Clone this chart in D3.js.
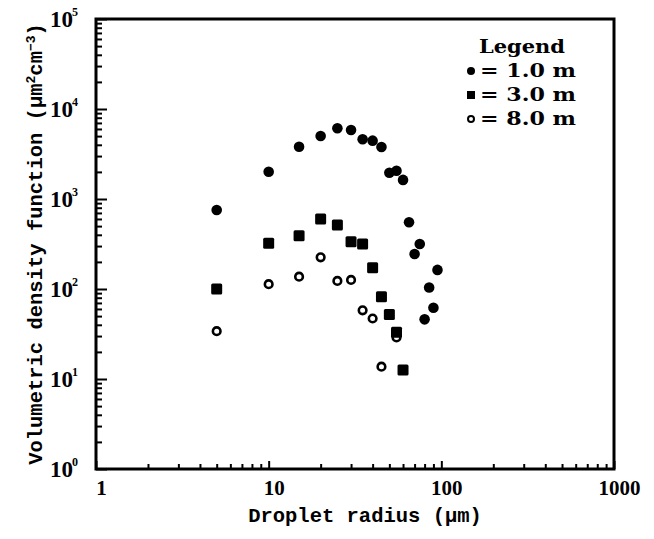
<!DOCTYPE html>
<html>
<head>
<meta charset="utf-8">
<script src="https://cdn.jsdelivr.net/npm/d3@7"></script>
<style>
  body { margin: 0; background: #fff; }
  svg { display: block; }
</style>
</head>
<body>
<svg id="chart" width="654" height="539"></svg>
<script>
// droplet radius (um) and volumetric density for each height
var radius1 = [5, 10, 15, 20, 25, 30, 35, 40, 45, 50, 55, 60, 65, 70, 75, 80, 85, 90, 95];
var dens1   = [755, 2010, 3810, 5010, 6100, 5850, 4610, 4450, 3780, 1960, 2060, 1630, 551, 245, 316, 46, 104, 62, 163];

var radius3 = [5, 10, 15, 20, 25, 30, 35, 40, 45, 50, 55, 60];
var dens3   = [100, 322, 391, 600, 514, 335, 316, 172, 82, 52, 33, 12.6];

var radius8 = [5, 10, 15, 20, 25, 30, 35, 40, 45, 55];
var dens8   = [34, 113, 137, 225, 123, 126, 58, 47, 13.7, 29];

var xTicks = [1, 10, 100, 1000];
var yExps = [0, 1, 2, 3, 4, 5];
var legendLabels = ["= 1.0 m", "= 3.0 m", "= 8.0 m"];

var margin = {top: 19, right: 40, bottom: 70, left: 96},
    width = 614 - margin.left,
    height = 469 - margin.top;

var svg = d3.select("#chart")
  .append("g")
  .attr("transform", "translate(" + margin.left + "," + margin.top + ")");

var x = d3.scaleLog().domain([1, 1000]).range([0, width]);
var y = d3.scaleLog().domain([1, 1e5]).range([height, 0]);

// minor tick values
var minorX = [], minorY = [];
[1, 10, 100].forEach(function(d){
  for (var k = 2; k <= 9; k++) minorX.push(d * k);
});
[1, 10, 100, 1000, 10000].forEach(function(d){
  for (var k = 2; k <= 9; k++) minorY.push(d * k);
});

function tickStyle(g) {
  g.select(".domain").remove();
  g.selectAll("line").attr("stroke", "#000").attr("stroke-width", 2);
}

svg.append("g")
  .attr("transform", "translate(0," + height + ")")
  .call(d3.axisBottom(x).tickValues(minorX).tickSize(-5).tickFormat(""))
  .call(tickStyle);

svg.append("g")
  .attr("transform", "translate(0," + height + ")")
  .call(d3.axisBottom(x).tickValues(xTicks).tickSize(-8).tickPadding(11).tickFormat(d3.format("d")))
  .call(tickStyle)
  .selectAll("text")
  .attr("dx", 5)
  .attr("fill", "#000")
  .style("font-family", "'Liberation Serif', serif")
  .style("font-weight", "bold")
  .style("font-size", "21px");

svg.append("g")
  .call(d3.axisLeft(y).tickValues(minorY).tickSize(-6).tickFormat(""))
  .call(tickStyle);

svg.append("g")
  .call(d3.axisLeft(y).tickValues(yExps.map(function(e){ return Math.pow(10, e); })).tickSize(-11).tickFormat(""))
  .call(tickStyle);

// y tick labels 10^n
svg.selectAll(".ylab")
  .data(yExps)
  .enter().append("text")
  .attr("class", "ylab")
  .attr("x", -23)
  .attr("y", function(d){ return y(Math.pow(10, d)) + 8; })
  .attr("text-anchor", "end")
  .style("font-family", "'Liberation Serif', serif")
  .style("font-weight", "bold")
  .style("font-size", "23px")
  .text("10");

svg.selectAll(".yexp")
  .data(yExps)
  .enter().append("text")
  .attr("class", "yexp")
  .attr("x", -24)
  .attr("y", function(d){ return y(Math.pow(10, d)) - 3; })
  .style("font-family", "'Liberation Serif', serif")
  .style("font-weight", "bold")
  .style("font-size", "12px")
  .text(function(d){ return d; });

// frame
svg.append("rect")
  .attr("x", 0)
  .attr("y", 0)
  .attr("width", width)
  .attr("height", height)
  .attr("fill", "none")
  .attr("stroke", "#000")
  .attr("stroke-width", 3);

// axis titles
svg.append("text")
  .attr("x", 269)
  .attr("y", 503)
  .attr("text-anchor", "middle")
  .style("font-family", "'Liberation Mono', monospace")
  .style("font-weight", "bold")
  .style("font-size", "20.5px")
  .text("Droplet radius (µm)");

var ytitle = svg.append("text")
  .attr("transform", "translate(-54," + (height / 2) + ") rotate(-90)")
  .attr("text-anchor", "middle")
  .style("font-family", "'Liberation Mono', monospace")
  .style("font-weight", "bold")
  .style("font-size", "20.5px");
ytitle.append("tspan").text("Volumetric density function (µm");
ytitle.append("tspan").attr("dy", -7).style("font-size", "13px").text("2");
ytitle.append("tspan").attr("dy", 7).text("cm");
ytitle.append("tspan").attr("dy", -7).style("font-size", "13px").text("−3");
ytitle.append("tspan").attr("dy", 7).text(")");

// points: open circles first, then squares, then filled circles
svg.selectAll(".p8")
  .data(radius8)
  .enter().append("circle")
  .attr("class", "p8")
  .attr("cx", function(d){ return x(d); })
  .attr("cy", function(d, i){ return y(dens8[i]); })
  .attr("r", 3.8)
  .attr("fill", "#fff")
  .attr("stroke", "#000")
  .attr("stroke-width", 2.6);

svg.selectAll(".p3")
  .data(radius3)
  .enter().append("rect")
  .attr("class", "p3")
  .attr("x", function(d){ return x(d) - 5.5; })
  .attr("y", function(d, i){ return y(dens3[i]) - 5.5; })
  .attr("width", 11)
  .attr("height", 11)
  .attr("rx", 1.5)
  .attr("fill", "#000");

svg.selectAll(".p1")
  .data(radius1)
  .enter().append("circle")
  .attr("class", "p1")
  .attr("cx", function(d){ return x(d); })
  .attr("cy", function(d, i){ return y(dens1[i]); })
  .attr("r", 5.3)
  .attr("fill", "#000");

// legend
var legend = svg.append("g").attr("transform", "translate(375,0)");

legend.append("text")
  .attr("x", 8)
  .attr("y", 34)
  .attr("textLength", 86)
  .attr("lengthAdjust", "spacingAndGlyphs")
  .style("font-family", "'DejaVu Serif', serif")
  .style("font-weight", "bold")
  .style("font-size", "18px")
  .text("Legend");

var rowY = [58, 82, 106];

legend.selectAll(".ltext")
  .data(legendLabels)
  .enter().append("text")
  .attr("class", "ltext")
  .attr("x", 9)
  .attr("y", function(d, i){ return rowY[i]; })
  .attr("textLength", 96)
  .attr("lengthAdjust", "spacingAndGlyphs")
  .style("font-family", "'DejaVu Serif', serif")
  .style("font-weight", "bold")
  .style("font-size", "19px")
  .text(function(d){ return d; });

legend.append("circle")
  .attr("cx", 0).attr("cy", rowY[0] - 6).attr("r", 4)
  .attr("fill", "#000");
legend.append("rect")
  .attr("x", -4).attr("y", rowY[1] - 10).attr("width", 8).attr("height", 8)
  .attr("fill", "#000");
legend.append("circle")
  .attr("cx", 0).attr("cy", rowY[2] - 6).attr("r", 3)
  .attr("fill", "#fff").attr("stroke", "#000").attr("stroke-width", 2);
</script>
</body>
</html>
